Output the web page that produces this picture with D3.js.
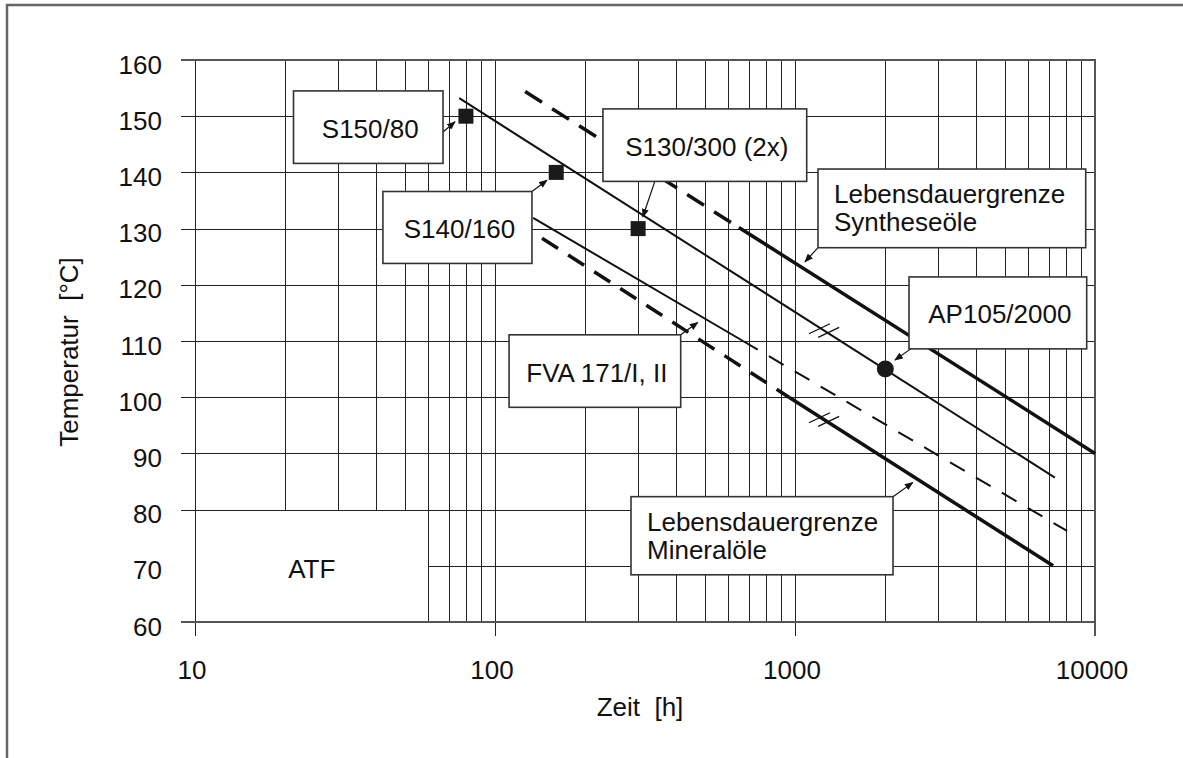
<!DOCTYPE html>
<html>
<head>
<meta charset="utf-8">
<script src="https://cdn.jsdelivr.net/npm/d3@7"></script>
<style>
  body { margin: 0; background: #fff; }
  svg { display: block; font-family: "Liberation Sans", Arial, sans-serif; }
  text { fill: #111; white-space: pre; }
</style>
</head>
<body>
<div id="chart"></div>
<script>
// Axis values
var timeDecades = [10, 100, 1000, 10000];
var timeMinor = [20, 30, 40, 50, 60, 70, 80, 90,
    200, 300, 400, 500, 600, 700, 800, 900,
    2000, 3000, 4000, 5000, 6000, 7000, 8000, 9000];
var tempTicks = [60, 70, 80, 90, 100, 110, 120, 130, 140, 150, 160];

// ATF corner (no grid below 80 °C left of 60 h)
var atfTime = 60;
var atfTemp = 80;

// Lines [time h, temperature °C]
var synthDashed = [[126, 154.4], [650, 130.2]];
var synthSolid = [[650, 130.2], [10000, 90]];
var testLine = [[76, 153.2], [7350, 85.7]];
var fvaSolid = [[134, 131.9], [671, 110]];
var fvaDashed = [[671, 110], [8070, 76.2]];
var mineralDashed = [[143.5, 128.3], [955, 100]];
var mineralSolid = [[955, 100], [7250, 70]];

// Test points
var squarePoints = [[80, 150], [160, 140], [300, 130]];
var circlePoints = [[2000, 105]];

// Break marks "//" on lines at this time
var breakTime = 1250;

// Callout boxes: box in data units [t0, T0, t1, T1], arrow from -> to
var callouts = [
    {lines: ["S150/80"], box: [21.3, 154.5, 67.1, 141.6], align: "middle",
        arrow: [[67.1, 147.2], [73.6, 149]]},
    {lines: ["S140/160"], box: [42.3, 136.6, 132.8, 123.8], align: "middle",
        arrow: [[132.8, 136.6], [149, 138.6]]},
    {lines: ["S130/300 (2x)"], box: [229, 151.3, 1094, 138.4], align: "middle",
        arrow: [[341, 138.4], [311, 132.1]]},
    {lines: ["Lebensdauergrenze", "Syntheseöle"], box: [1193, 140.6, 9312, 126.6], align: "start",
        arrow: [[1193, 126.6], [1080, 124.1]]},
    {lines: ["AP105/2000"], box: [2399, 121.4, 9383, 108.6], align: "middle",
        arrow: [[2431, 108.6], [2154, 106.6]]},
    {lines: ["FVA 171/I, II"], box: [111.4, 111.1, 415.9, 98.2], align: "middle",
        arrow: [[415.9, 111.1], [474, 113.3]]},
    {lines: ["Lebensdauergrenze", "Mineralöle"], box: [284, 82.3, 2122, 68.4], align: "start",
        arrow: [[2122, 82.3], [2468, 84.8]]}
];

var W = 1183, H = 758;
var margin = {top: 60, right: 88, bottom: 136, left: 195};

var svg = d3.select("#chart").append("svg")
    .attr("width", W)
    .attr("height", H);

var x = d3.scaleLog().domain([10, 10000]).range([margin.left, W - margin.right]);
var y = d3.scaleLinear().domain([60, 160]).range([H - margin.bottom, margin.top]);

// outer frame (only top and left visible)
svg.append("rect")
    .attr("x", 7).attr("y", 5)
    .attr("width", 1400).attr("height", 1000)
    .attr("fill", "none")
    .attr("stroke", "#666")
    .attr("stroke-width", 2.5);

var grid = svg.append("g")
    .attr("stroke", "#222")
    .attr("stroke-width", 1.2)
    .attr("shape-rendering", "crispEdges");

// vertical grid, minor
grid.selectAll(".vminor")
    .data(timeMinor)
    .enter().append("line")
    .attr("x1", function (d) { return Math.round(x(d)) + 0.5; })
    .attr("x2", function (d) { return Math.round(x(d)) + 0.5; })
    .attr("y1", y(160))
    .attr("y2", function (d) { return d < atfTime ? y(atfTemp) : y(60); });

// vertical grid, decades (reach past the axis as ticks)
grid.selectAll(".vmajor")
    .data(timeDecades)
    .enter().append("line")
    .attr("x1", function (d) { return Math.round(x(d)) + 0.5; })
    .attr("x2", function (d) { return Math.round(x(d)) + 0.5; })
    .attr("y1", y(160))
    .attr("y2", y(60) + 14);

// horizontal grid with left ticks
grid.selectAll(".hgrid")
    .data(tempTicks)
    .enter().append("line")
    .attr("x1", function (d) { return (d > 60 && d < atfTemp) ? x(atfTime) : x(10) - 14; })
    .attr("x2", x(10000))
    .attr("y1", function (d) { return Math.round(y(d)) + 0.5; })
    .attr("y2", function (d) { return Math.round(y(d)) + 0.5; });

// plot frame in grey
var frame = svg.append("g").attr("stroke", "#555").attr("stroke-width", 2).attr("fill", "none");
frame.append("line").attr("x1", x(10) - 14).attr("x2", x(10000) + 1).attr("y1", y(160)).attr("y2", y(160));
frame.append("line").attr("x1", x(10000)).attr("x2", x(10000)).attr("y1", y(160)).attr("y2", y(60) + 14);
frame.append("line").attr("x1", x(10) - 14).attr("x2", x(10000)).attr("y1", y(60)).attr("y2", y(60));

// tick labels
svg.append("g").selectAll("text")
    .data(tempTicks)
    .enter().append("text")
    .attr("x", x(10) - 33)
    .attr("y", function (d) { return y(d) + 13.5; })
    .attr("text-anchor", "end")
    .style("font-size", "26px")
    .text(function (d) { return d; });

svg.append("g").selectAll("text")
    .data(timeDecades)
    .enter().append("text")
    .attr("x", function (d) { return x(d) - 3; })
    .attr("y", y(60) + 57)
    .attr("text-anchor", "middle")
    .style("font-size", "26px")
    .text(function (d) { return d; });

// axis titles
svg.append("text")
    .attr("transform", "translate(78," + 352 + ") rotate(-90)")
    .attr("text-anchor", "middle")
    .style("font-size", "26px")
    .text("Temperatur  [°C]");

svg.append("text")
    .attr("x", 640)
    .attr("y", 716)
    .attr("text-anchor", "middle")
    .style("font-size", "26px")
    .text("Zeit  [h]");

// ATF label in the empty corner
svg.append("text")
    .attr("x", (x(10) + x(atfTime)) / 2)
    .attr("y", (y(atfTemp) + y(60)) / 2 + 12)
    .attr("text-anchor", "middle")
    .style("font-size", "26px")
    .text("ATF");

// lines
var line = d3.line()
    .x(function (d) { return x(d[0]); })
    .y(function (d) { return y(d[1]); });

var series = [
    {data: synthDashed, w: 3.5, dash: "20,12"},
    {data: synthSolid, w: 3.5, dash: null},
    {data: testLine, w: 2, dash: null},
    {data: fvaSolid, w: 2, dash: null},
    {data: fvaDashed, w: 2, dash: "17,13"},
    {data: mineralDashed, w: 3.5, dash: "19,12"},
    {data: mineralSolid, w: 3.5, dash: null}
];

svg.append("g").selectAll("path")
    .data(series)
    .enter().append("path")
    .attr("d", function (d) { return line(d.data); })
    .attr("fill", "none")
    .attr("stroke", "#111")
    .attr("stroke-width", function (d) { return d.w; })
    .attr("stroke-dasharray", function (d) { return d.dash; });

// break marks on test line and mineral line
function tempAt(seg, t) {
    var a = seg[0], b = seg[1];
    var f = (Math.log(t) - Math.log(a[0])) / (Math.log(b[0]) - Math.log(a[0]));
    return a[1] + f * (b[1] - a[1]);
}
var breaks = [[breakTime, tempAt(testLine, breakTime)], [breakTime, tempAt(mineralSolid, breakTime)]];
breaks.forEach(function (b) {
    var cx = x(b[0]), cy = y(b[1]);
    [-4.6, 4.6].forEach(function (o) {
        var px = cx + o, py = cy + o * 0.4;
        svg.append("line")
            .attr("x1", px - 10.5).attr("y1", py + 5)
            .attr("x2", px + 10.5).attr("y2", py - 5)
            .attr("stroke", "#111")
            .attr("stroke-width", 1.3);
    });
});

// points
svg.append("g").selectAll("rect")
    .data(squarePoints)
    .enter().append("rect")
    .attr("x", function (d) { return x(d[0]) - 7.5; })
    .attr("y", function (d) { return y(d[1]) - 7.5; })
    .attr("width", 15)
    .attr("height", 15)
    .attr("fill", "#1a1a1a");

svg.append("g").selectAll("circle")
    .data(circlePoints)
    .enter().append("circle")
    .attr("cx", function (d) { return x(d[0]); })
    .attr("cy", function (d) { return y(d[1]); })
    .attr("r", 8.5)
    .attr("fill", "#1a1a1a");

// arrow marker
svg.append("defs").append("marker")
    .attr("id", "arrow")
    .attr("markerUnits", "userSpaceOnUse")
    .attr("viewBox", "0 0 10 8")
    .attr("refX", 9).attr("refY", 4)
    .attr("markerWidth", 9).attr("markerHeight", 7)
    .attr("orient", "auto")
    .append("path")
    .attr("d", "M0,0 L10,4 L0,8 Z")
    .attr("fill", "#111");

// callouts
var co = svg.append("g").selectAll("g")
    .data(callouts)
    .enter().append("g");

co.append("line")
    .attr("x1", function (d) { return x(d.arrow[0][0]); })
    .attr("y1", function (d) { return y(d.arrow[0][1]); })
    .attr("x2", function (d) { return x(d.arrow[1][0]); })
    .attr("y2", function (d) { return y(d.arrow[1][1]); })
    .attr("stroke", "#111")
    .attr("stroke-width", 1.2)
    .attr("marker-end", "url(#arrow)");

co.append("rect")
    .attr("x", function (d) { return x(d.box[0]); })
    .attr("y", function (d) { return y(d.box[1]); })
    .attr("width", function (d) { return x(d.box[2]) - x(d.box[0]); })
    .attr("height", function (d) { return y(d.box[3]) - y(d.box[1]); })
    .attr("fill", "#fff")
    .attr("stroke", "#333")
    .attr("stroke-width", 1.6);

co.each(function (d) {
    var g = d3.select(this);
    var x0 = x(d.box[0]), x1 = x(d.box[2]);
    var y0 = y(d.box[1]), y1 = y(d.box[3]);
    if (d.lines.length === 1) {
        g.append("text")
            .attr("x", (x0 + x1) / 2 + 2)
            .attr("y", (y0 + y1) / 2 + 10.5)
            .attr("text-anchor", "middle")
            .style("font-size", "26px")
            .text(d.lines[0]);
    } else {
        d.lines.forEach(function (l, i) {
            g.append("text")
                .attr("x", x0 + 16)
                .attr("y", y0 + 34 + i * 28)
                .style("font-size", "26px")
                .text(l);
        });
    }
});
</script>
</body>
</html>
